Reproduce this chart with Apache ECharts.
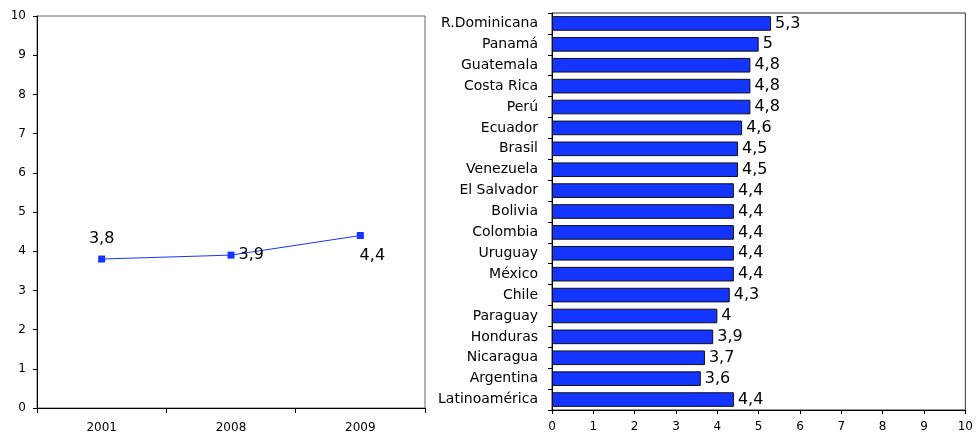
<!DOCTYPE html>
<html><head><meta charset="utf-8">
<script src="https://cdn.jsdelivr.net/npm/echarts@6/dist/echarts.min.js"></script>
<style>html,body{margin:0;padding:0;background:#fff}#c{width:976px;height:434px}</style>
</head><body><div id="c"></div>
<script>
var years = ['2001', '2008', '2009'];
var yearValues = [3.8, 3.9, 4.4];
var yearLabelPos = ['top', 'right', 'bottom'];
var countries = ['R.Dominicana','Panamá','Guatemala','Costa Rica','Perú','Ecuador','Brasil','Venezuela','El Salvador','Bolivia','Colombia','Uruguay','México','Chile','Paraguay','Honduras','Nicaragua','Argentina','Latinoamérica'];
var countryValues = [5.3, 5, 4.8, 4.8, 4.8, 4.6, 4.5, 4.5, 4.4, 4.4, 4.4, 4.4, 4.4, 4.3, 4, 3.9, 3.7, 3.6, 4.4];

var font = 'DejaVu Sans, Verdana, sans-serif';
var blue = '#1434FF';
function fmt(v){ return String(v).replace('.', ','); }

var chart = echarts.init(document.getElementById('c'));
chart.setOption({
  animation: false,
  textStyle: {fontFamily: font},
  grid: [
    {left: 37, right: 551, top: 16, bottom: 26, show: true, borderColor: '#666', borderWidth: 1, containLabel: false},
    {left: 552, right: 8, top: 13, bottom: 24, show: true, borderColor: '#333', borderWidth: 1, containLabel: false}
  ],
  xAxis: [
    {gridIndex: 0, type: 'category', data: years, boundaryGap: true,
     axisLine: {lineStyle: {color: '#000'}}, axisTick: {show: true, length: 5, lineStyle: {color: '#000'}},
     axisLabel: {color: '#000', fontSize: 12, fontFamily: font, margin: 14}},
    {gridIndex: 1, type: 'value', min: 0, max: 10, interval: 1,
     axisLine: {show: true, lineStyle: {color: '#000'}}, axisTick: {show: true, length: 4, lineStyle: {color: '#000'}},
     splitLine: {show: false},
     axisLabel: {color: '#000', fontSize: 12, fontFamily: font, margin: 11}}
  ],
  yAxis: [
    {gridIndex: 0, type: 'value', min: 0, max: 10, interval: 1,
     axisLine: {show: true, lineStyle: {color: '#000'}}, axisTick: {show: true, length: 4, lineStyle: {color: '#000'}},
     splitLine: {show: false},
     axisLabel: {color: '#000', fontSize: 12, fontFamily: font, margin: 11}},
    {gridIndex: 1, type: 'category', data: countries, inverse: true, boundaryGap: true,
     axisLine: {show: true, lineStyle: {color: '#000'}}, axisTick: {show: true, length: 4, lineStyle: {color: '#000'}},
     axisLabel: {color: '#000', fontSize: 14, fontFamily: font, margin: 14}}
  ],
  series: [
    {type: 'line', xAxisIndex: 0, yAxisIndex: 0,
     data: yearValues.map(function(v, i){
       var pos = yearLabelPos[i];
       return {value: v, label: {position: pos, distance: pos === 'right' ? 4 : 9, offset: pos === 'bottom' ? [12, 0] : [0, 0]}};
     }),
     symbol: 'rect', symbolSize: 7, lineStyle: {color: blue, width: 1}, itemStyle: {color: blue},
     label: {show: true, color: '#000', fontSize: 16, fontFamily: font, formatter: function(p){ return fmt(p.value); }}},
    {type: 'bar', xAxisIndex: 1, yAxisIndex: 1, data: countryValues, barCategoryGap: '30%',
     itemStyle: {color: blue, borderColor: '#111', borderWidth: 1},
     label: {show: true, position: 'right', distance: 4, color: '#000', fontSize: 16, fontFamily: font, formatter: function(p){ return fmt(p.value); }}}
  ]
});
</script></body></html>
